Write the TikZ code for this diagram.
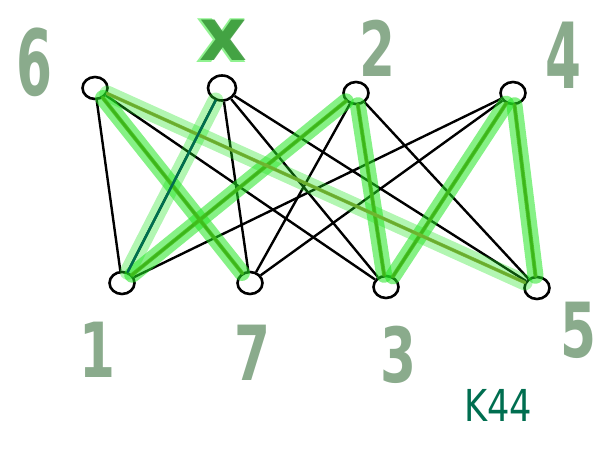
\documentclass[tikz,border=0pt]{standalone}
\usepackage{fontspec}
\setmainfont{DejaVu Sans}
\usetikzlibrary{shapes.geometric, positioning}
\definecolor{numcol}{HTML}{84A786}
\definecolor{hlbright}{HTML}{22E622}
\definecolor{hlmid}{HTML}{44C01C}
\definecolor{hlolive}{HTML}{74B832}
\definecolor{tealink}{HTML}{006E50}
\definecolor{xcol}{HTML}{3C9A3C}
\tikzset{
  vert/.style={ellipse, draw=black, line width=2.6pt, minimum width=25pt, minimum height=22pt, inner sep=0pt},
  edg/.style={draw=black, line width=2.4pt},
  hlwide/.style={draw=hlbright, line width=16pt, opacity=0.55, line cap=round},
  hlline/.style={draw=hlmid, line width=4pt, opacity=0.85, line cap=round},
  hlthin/.style={draw=hlolive, line width=3.5pt, opacity=0.9, line cap=round},
  num/.style={font=\bfseries\fontsize{76}{76}\selectfont, text=numcol, opacity=0.95, xscale=0.68, transform shape, inner sep=0pt},
  klab/.style={font=\fontsize{44}{44}\selectfont, text=tealink, inner sep=0pt, xscale=0.8, transform shape},
}
\begin{document}
\begin{tikzpicture}[x=1pt, y=-1pt]
  \useasboundingbox (0,0) rectangle (597,449);
  % vertices
  \node[vert] (v6) at (95,88) {};
  \node[vert, minimum width=28pt, minimum height=25pt] (vx) at (222,88) {};
  \node[vert] (v2) at (356,93) {};
  \node[vert] (v4) at (513,93) {};
  \node[vert] (v1) at (122,283) {};
  \node[vert] (v7) at (250,283) {};
  \node[vert] (v3) at (386,287) {};
  \node[vert] (v5) at (537,288) {};
  % all edges of the bipartite graph
  \foreach \t in {v6,vx,v2,v4}
    \foreach \b in {v1,v7,v3,v5}
      \draw[edg] (\t) -- (\b);
  % highlighted cycle
  \draw[hlwide] (v6) -- (v7);
  \draw[hlwide, opacity=0.35] (vx) -- (v1);
  \draw[hlwide] (v2) -- (v1);
  \draw[hlwide] (v2) -- (v3);
  \draw[hlwide] (v4) -- (v3);
  \draw[hlwide] (v4) -- (v5);
  \draw[hlwide, opacity=0.35] (v6) -- (v5);
  \draw[hlline] (v6) -- (v7);
  \draw[hlline] (v2) -- (v1);
  \draw[hlline] (v2) -- (v3);
  \draw[hlline] (v4) -- (v3);
  \draw[hlline] (v4) -- (v5);
  \draw[hlthin] (v6) -- (v5);
  \draw[draw=tealink, line width=2.5pt, line cap=round] (vx) -- (v1);
  % labels
  \node[num, yscale=1.2] (l6) at (34,62) {6};
  \node[font=\bfseries\fontsize{80}{80}\selectfont, text=hlbright, opacity=0.5, inner sep=0pt] (lxg) at (221,41) {x};
  \node[font=\bfseries\fontsize{74}{74}\selectfont, text=xcol, opacity=0.9, inner sep=0pt] (lx) at (223,40) {x};
  \node[num] (l2) at (377,48) {2};
  \node[num, yscale=1.2] (l4) at (563,55) {4};
  \node[num] (l1) at (97,350) {1};
  \node[num] (l7) at (252,353) {7};
  \node[num] (l3) at (398,355) {3};
  \node[num] (l5) at (578,330) {5};
  \node[klab] (lk) at (498,405) {K44};
\end{tikzpicture}
\end{document}
